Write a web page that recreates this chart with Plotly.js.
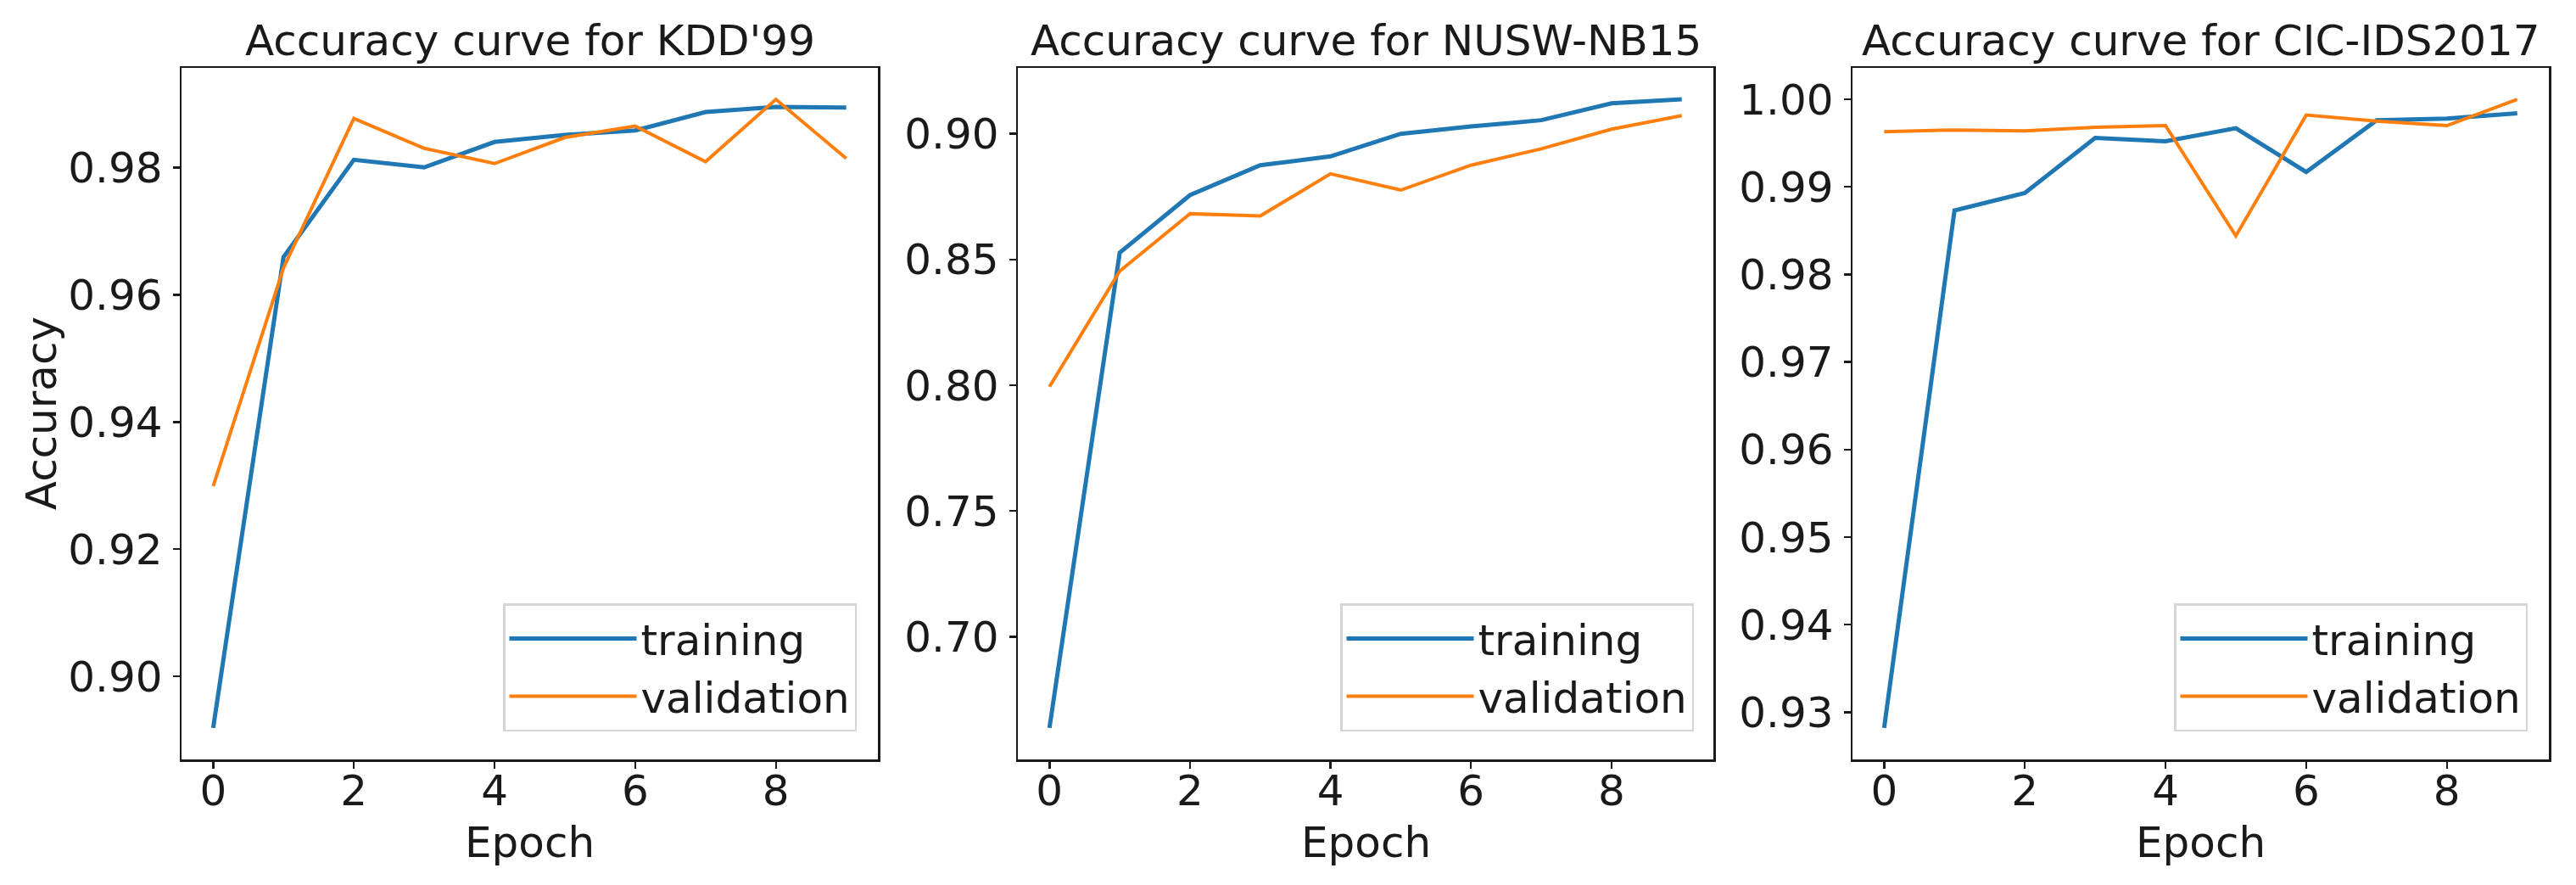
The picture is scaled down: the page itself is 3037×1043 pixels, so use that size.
<!DOCTYPE html>
<html>
<head>
<meta charset="utf-8">
<script src="https://cdn.plot.ly/plotly-3.0.1.min.js"></script>
<style>
  html, body { margin: 0; padding: 0; background: #ffffff; }
  #chart { width: 3037px; height: 1043px; }
</style>
</head>
<body>
<div id="chart"></div>
<script>
// ---------------- data ----------------
const epochs = [0, 1, 2, 3, 4, 5, 6, 7, 8, 9];
const xTickVals = [0, 2, 4, 6, 8];

const panelTitles = ["Accuracy curve for KDD'99", "Accuracy curve for NUSW-NB15", "Accuracy curve for CIC-IDS2017"];
const seriesNames = ["training", "validation"];

const kddTrain = [0.8919, 0.9659, 0.9812, 0.9800, 0.9840, 0.9851, 0.9858, 0.9887, 0.9895, 0.9894];
const kddVal   = [0.9299, 0.9642, 0.9877, 0.9830, 0.9806, 0.9847, 0.9865, 0.9809, 0.9907, 0.9814];

const nbTrain  = [0.6637, 0.8527, 0.8756, 0.8875, 0.8910, 0.9000, 0.9029, 0.9054, 0.9121, 0.9137];
const nbVal    = [0.7994, 0.8454, 0.8682, 0.8673, 0.8841, 0.8776, 0.8875, 0.8940, 0.9018, 0.9072];

const cicTrain = [0.9282, 0.9873, 0.9893, 0.9956, 0.9952, 0.9967, 0.9917, 0.9976, 0.9978, 0.9984];
const cicVal   = [0.9963, 0.9965, 0.9964, 0.9968, 0.9970, 0.9844, 0.9982, 0.9975, 0.9970, 1.0000];

const kddTicks = [0.90, 0.92, 0.94, 0.96, 0.98];
const nbTicks  = [0.70, 0.75, 0.80, 0.85, 0.90];
const cicTicks = [0.93, 0.94, 0.95, 0.96, 0.97, 0.98, 0.99, 1.00];

// ---------------- style ----------------
const W = 3037, H = 1043;
const FONT = "DejaVu Sans";
const TXT = "#1a1a1a";
const FS = 50;
const BLUE = "#1f77b4", ORANGE = "#ff7f0e";

function padRange(a, b) {
  const all = a.concat(b);
  const mn = Math.min(...all), mx = Math.max(...all);
  const p = 0.05 * (mx - mn);
  return [mn - p, mx + p];
}

const xDomains = [[214 / W, 1035 / W], [1200 / W, 2020 / W], [2184 / W, 3005 / W]];
const yDomain = [1 - 895 / H, 1 - 80 / H];
const legendRight = [1010 / W, 1997 / W, 2980 / W];
const legendBottom = 1 - 862 / H;

const panels = [
  { train: kddTrain, val: kddVal, ticks: kddTicks },
  { train: nbTrain, val: nbVal, ticks: nbTicks },
  { train: cicTrain, val: cicVal, ticks: cicTicks }
];

const axisCommon = {
  showgrid: false, zeroline: false,
  showline: true, mirror: true, linecolor: TXT, linewidth: 2.5,
  ticks: "outside", ticklen: 8, tickwidth: 2.5, tickcolor: TXT,
  tickfont: { family: FONT, size: FS, color: TXT },
  fixedrange: true
};

const traces = [];
const layout = {
  width: W, height: H,
  margin: { l: 0, r: 0, t: 0, b: 0, pad: 0 },
  paper_bgcolor: "#ffffff", plot_bgcolor: "#ffffff",
  showlegend: true,
  font: { family: FONT, size: FS, color: TXT },
  annotations: []
};

panels.forEach((p, i) => {
  const n = i === 0 ? "" : String(i + 1);
  const legKey = "legend" + n;
  traces.push({
    x: epochs, y: p.train, type: "scatter", mode: "lines", name: seriesNames[0],
    xaxis: "x" + n, yaxis: "y" + n, legend: legKey, legendgroup: "t" + i,
    line: { color: BLUE, width: 5 }, hoverinfo: "skip"
  });
  traces.push({
    x: epochs, y: p.val, type: "scatter", mode: "lines", name: seriesNames[1],
    xaxis: "x" + n, yaxis: "y" + n, legend: legKey, legendgroup: "v" + i,
    line: { color: ORANGE, width: 4 }, hoverinfo: "skip"
  });

  layout["xaxis" + n] = Object.assign({}, axisCommon, {
    domain: xDomains[i], anchor: "y" + n,
    range: [-0.45, 9.45], tickmode: "array", tickvals: xTickVals,
    ticktext: xTickVals.map(String), ticklabelstandoff: -17
  });
  layout["yaxis" + n] = Object.assign({}, axisCommon, {
    domain: yDomain, anchor: "x" + n,
    range: padRange(p.train, p.val), tickmode: "array", tickvals: p.ticks,
    ticktext: p.ticks.map(v => v.toFixed(2)), ticklabelstandoff: 2
  });

  layout[legKey] = {
    x: legendRight[i], xanchor: "right", xref: "paper",
    y: legendBottom, yanchor: "bottom", yref: "paper",
    bgcolor: "rgba(255,255,255,0.8)", bordercolor: "#d6d6d6", borderwidth: 2.5,
    font: { family: FONT, size: FS, color: TXT },
    itemwidth: 150, tracegroupgap: 15, traceorder: "normal"
  };

  const cx = (xDomains[i][0] + xDomains[i][1]) / 2;
  layout.annotations.push({
    text: panelTitles[i], xref: "paper", yref: "paper",
    x: cx, y: 1 - 47.7 / H, xanchor: "center", yanchor: "middle",
    showarrow: false, font: { family: FONT, size: FS, color: TXT }
  });
  layout.annotations.push({
    text: "Epoch", xref: "paper", yref: "paper",
    x: cx, y: 1 - 993 / H, xanchor: "center", yanchor: "middle",
    showarrow: false, font: { family: FONT, size: FS, color: TXT }
  });
});

layout.annotations.push({
  text: "Accuracy", xref: "paper", yref: "paper",
  x: 49.7 / W, y: (yDomain[0] + yDomain[1]) / 2, xanchor: "center", yanchor: "middle",
  textangle: -90, showarrow: false, font: { family: FONT, size: FS, color: TXT }
});

Plotly.newPlot("chart", traces, layout, { staticPlot: true, displayModeBar: false });
</script>
</body>
</html>
